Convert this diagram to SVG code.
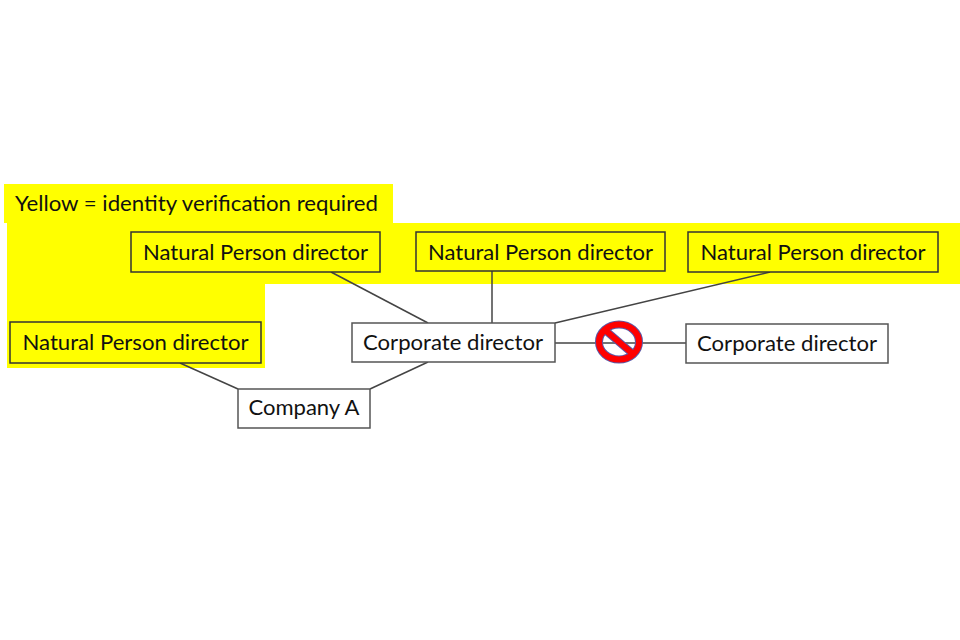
<svg xmlns="http://www.w3.org/2000/svg" width="960" height="640" viewBox="0 0 960 640">
<style>
  .box { stroke-width: 1.5; }
  .yb { fill: #ffff00; stroke: #333333; }
  .wb { fill: #ffffff; stroke: #555555; }
  .t { font-family: Lato, "Liberation Sans", sans-serif; font-size: 21px; fill: #111111; text-anchor: middle; }
  .c { stroke: #444444; stroke-width: 1.5; fill: none; }
</style>
<rect width="960" height="640" fill="#ffffff"/>
<path id="highlight" d="M4,184 H393 V223 H960 V284 H265 V368 H7 V223 H4 Z" fill="#ffff00"/>
<text id="legend" class="t" x="15" y="211" style="text-anchor:start" textLength="363" lengthAdjust="spacingAndGlyphs">Yellow = identity verification required</text>
<g id="connectors">
  <line class="c" x1="331" y1="272" x2="428" y2="323"/>
  <line class="c" x1="492" y1="271" x2="492" y2="323"/>
  <line class="c" x1="770" y1="272" x2="555" y2="323"/>
  <line class="c" x1="180" y1="363" x2="238" y2="389"/>
  <line class="c" x1="428" y1="362" x2="370" y2="389"/>
  <line class="c" x1="555" y1="343" x2="686" y2="343"/>
</g>
<g id="np1"><rect class="box yb" x="131" y="232" width="249" height="40"/><text class="t" x="255.5" y="260" textLength="225" lengthAdjust="spacingAndGlyphs">Natural Person director</text></g>
<g id="np2"><rect class="box yb" x="416" y="232" width="249" height="39"/><text class="t" x="540.5" y="260" textLength="225" lengthAdjust="spacingAndGlyphs">Natural Person director</text></g>
<g id="np3"><rect class="box yb" x="688" y="232" width="250" height="40"/><text class="t" x="813" y="260" textLength="225" lengthAdjust="spacingAndGlyphs">Natural Person director</text></g>
<g id="np4"><rect class="box yb" x="10" y="322" width="251" height="41"/><text class="t" x="135.5" y="350" textLength="226" lengthAdjust="spacingAndGlyphs">Natural Person director</text></g>
<g id="corp1"><rect class="box wb" x="352" y="323" width="203" height="39"/><text class="t" x="453" y="350" textLength="180" lengthAdjust="spacingAndGlyphs">Corporate director</text></g>
<g id="corp2"><rect class="box wb" x="686" y="324" width="202" height="39"/><text class="t" x="787" y="351" textLength="180" lengthAdjust="spacingAndGlyphs">Corporate director</text></g>
<g id="companyA"><rect class="box wb" x="238" y="389" width="132" height="39"/><text class="t" x="304" y="415" textLength="111" lengthAdjust="spacingAndGlyphs">Company A</text></g>
<g id="noEntry">
  <ellipse cx="619" cy="342" rx="20" ry="17.5" fill="none" stroke="#5a5aa8" stroke-width="8"/>
  <line x1="605" y1="330" x2="633" y2="354" stroke="#5a5aa8" stroke-width="8"/>
  <ellipse cx="619" cy="342" rx="20" ry="17.5" fill="none" stroke="#ff0000" stroke-width="6"/>
  <line x1="605" y1="330" x2="633" y2="354" stroke="#ff0000" stroke-width="6"/>
</g>
</svg>
